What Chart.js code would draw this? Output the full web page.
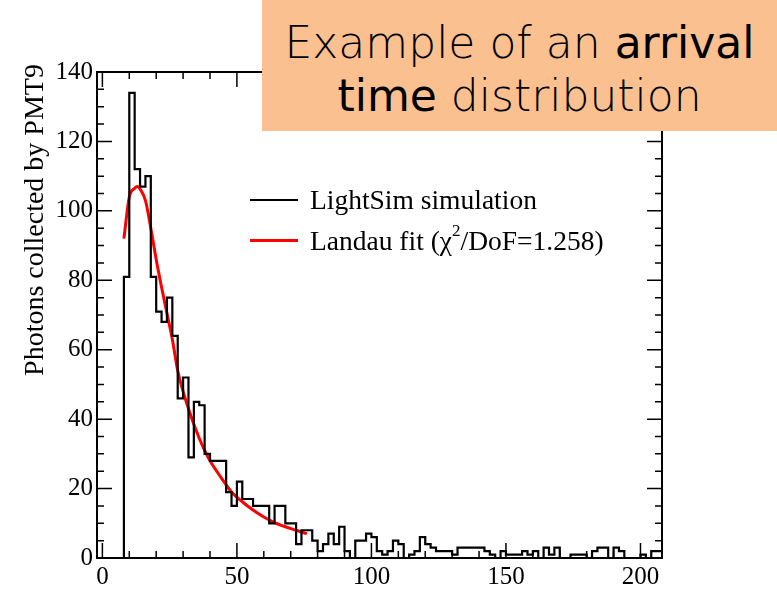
<!DOCTYPE html>
<html>
<head>
<meta charset="utf-8">
<script src="https://cdn.jsdelivr.net/npm/chart.js@4.4.1/dist/chart.umd.min.js"></script>
<style>
  body { margin: 0; background: #fff; }
  #wrap { position: relative; width: 777px; height: 597px; }
  #titleBox {
    position: absolute; left: 262px; top: 0; width: 515px; height: 131px;
    background: #fbc08f; box-sizing: border-box; padding-top: 16px;
    font-family: 'DejaVu Sans', sans-serif; font-size: 44px; line-height: 53px;
    text-align: center; color: #000;
  }
  .light { font-weight: 200; }
  .reg { font-weight: 400; }
  #legend {
    position: absolute; left: 250px; top: 179px;
    font-family: 'Liberation Serif', 'Times New Roman', serif; font-size: 27.5px; color: #000;
  }
  .row { display: flex; align-items: center; height: 41px; white-space: nowrap; }
  .swatch { width: 48px; height: 0; margin-right: 12px; }
  .sup { font-size: 62%; position: relative; top: -0.55em; }
</style>
</head>
<body>
<div id="wrap">
  <canvas id="histChart" width="777" height="597"></canvas>
  <div id="titleBox">
    <span class="light">Example of an </span><span class="reg">arrival</span><br>
    <span class="reg">time</span><span class="light"> distribution</span>
  </div>
  <div id="legend">
    <div class="row"><div class="swatch" style="border-top: 2px solid #000"></div>LightSim simulation</div>
    <div class="row"><div class="swatch" style="border-top: 3px solid #ff0000"></div>Landau fit (χ<span class="sup">2</span>/DoF=1.258)</div>
  </div>
</div>
<script>
// histogram: 2 ns bins, first bin starts at -2
const binStart = -2;
const binWidth = 2;
const binCounts = [
  0, 0, 0, 0, 0, 81, 134, 112, 107, 110,
  81, 71, 68, 75, 64, 46, 52, 29, 45, 44,
  30, 28, 28, 28, 19, 15, 22, 17, 17, 15,
  15, 15, 10, 15, 15, 10, 10, 4, 8, 8,
  5, 2, 4, 7, 4, 9, 2, 0, 5, 5,
  7, 6, 2, 1, 2, 5, 4, 0, 1, 2,
  6, 4, 3, 2, 2, 2, 1, 3, 3, 3,
  3, 3, 2, 1, 0, 2, 1, 1, 1, 2,
  1, 2, 0, 3, 1, 3, 0, 0, 1, 1,
  1, 0, 2, 3, 3, 0, 3, 2, 0, 0,
  0, 1, 0, 2, 2
];

// Landau fit
const fitX = [8, 10, 12, 13, 14, 16, 18, 20, 22, 24, 26, 28, 30, 32, 34, 36, 38, 40, 44, 48, 52, 56, 60, 64, 68, 72, 76];
const fitY = [92, 104, 106.5, 107, 106.3, 103, 95, 86, 78, 70.5, 63, 54, 48, 43, 38.5, 34.5, 31, 28, 23.3, 19, 16.2, 13.8, 11.8, 10.2, 9, 8, 7];

const xTickValues = [0, 50, 100, 150, 200];
const yTickValues = [0, 20, 40, 60, 80, 100, 120, 140];
const xMinorStep = 10;
const yMinorStep = 5;
const yTitle = 'Photons collected by PMT9';

const serif = "'Liberation Serif', 'Times New Roman', serif";

const histPoints = binCounts.map((c, i) => ({ x: binStart + i * binWidth, y: c }));
histPoints.push({ x: binStart + binCounts.length * binWidth, y: binCounts[binCounts.length - 1] });
const fitPoints = fitX.map((v, i) => ({ x: v, y: fitY[i] }));

// ROOT-like frame with inward ticks on all four sides, plus the y title
const rootFrame = {
  id: 'rootFrame',
  afterDatasetsDraw(chart) {
    const { ctx, chartArea: a, scales: { x, y } } = chart;
    ctx.save();
    ctx.strokeStyle = '#000';
    ctx.lineWidth = 1.5;
    ctx.beginPath();
    const x0 = xTickValues[0], x1 = xTickValues[xTickValues.length - 1];
    for (let v = x0; v <= x1; v += xMinorStep) {
      const px = x.getPixelForValue(v);
      const len = xTickValues.includes(v) ? 15 : 7;
      ctx.moveTo(px, a.bottom); ctx.lineTo(px, a.bottom - len);
      ctx.moveTo(px, a.top); ctx.lineTo(px, a.top + len);
    }
    const y0 = yTickValues[0], y1 = yTickValues[yTickValues.length - 1];
    for (let v = y0; v <= y1; v += yMinorStep) {
      const py = y.getPixelForValue(v);
      const len = yTickValues.includes(v) ? 15 : 7;
      ctx.moveTo(a.left, py); ctx.lineTo(a.left + len, py);
      ctx.moveTo(a.right, py); ctx.lineTo(a.right - len, py);
    }
    ctx.stroke();
    ctx.lineWidth = 2;
    ctx.strokeRect(a.left, a.top, a.right - a.left, a.bottom - a.top);

    ctx.translate(36, 220);
    ctx.rotate(-Math.PI / 2);
    ctx.fillStyle = '#000';
    ctx.font = '28px ' + serif;
    ctx.textAlign = 'center';
    ctx.textBaseline = 'middle';
    ctx.fillText(yTitle, 0, 0);
    ctx.restore();
  }
};

new Chart(document.getElementById('histChart'), {
  type: 'line',
  data: {
    datasets: [
      {
        label: 'LightSim simulation',
        data: histPoints,
        borderColor: '#000',
        borderWidth: 2.2,
        stepped: 'before',
        pointRadius: 0,
        fill: false
      },
      {
        label: 'Landau fit',
        data: fitPoints,
        borderColor: '#ff0000',
        borderWidth: 3,
        cubicInterpolationMode: 'monotone',
        pointRadius: 0,
        fill: false
      }
    ]
  },
  options: {
    responsive: false,
    animation: false,
    devicePixelRatio: 1,
    layout: { padding: { top: 72, right: 115, bottom: 0, left: 0 } },
    plugins: {
      legend: { display: false },
      tooltip: { enabled: false }
    },
    scales: {
      x: {
        type: 'linear',
        min: -2,
        max: 208,
        grid: { display: false, drawTicks: false },
        border: { display: false },
        ticks: { color: '#000', font: { family: serif, size: 25 }, padding: 4, maxRotation: 0 },
        afterBuildTicks: (scale) => { scale.ticks = xTickValues.map(v => ({ value: v })); },
        afterFit: (scale) => { scale.height = 39; }
      },
      y: {
        type: 'linear',
        min: 0,
        max: 140,
        grid: { display: false, drawTicks: false },
        border: { display: false },
        ticks: { color: '#000', font: { family: serif, size: 25 }, padding: 4 },
        afterBuildTicks: (scale) => { scale.ticks = yTickValues.map(v => ({ value: v })); },
        afterFit: (scale) => { scale.width = 97; }
      }
    }
  },
  plugins: [rootFrame]
});
</script>
</body>
</html>
